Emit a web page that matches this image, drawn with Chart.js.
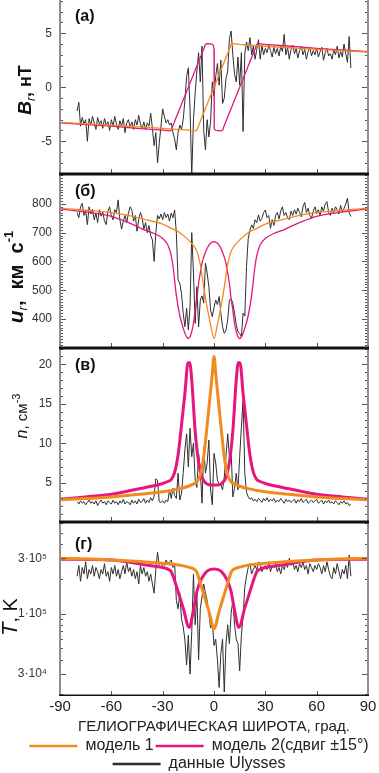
<!DOCTYPE html>
<html><head><meta charset="utf-8">
<script src="https://cdn.jsdelivr.net/npm/chart.js@4.4.1/dist/chart.umd.min.js"></script>
<style>
html,body{margin:0;padding:0;background:#fff;overflow:hidden}
#wrap{position:relative;width:379px;height:773px;overflow:hidden;background:#fff}
canvas{position:absolute;left:0}
</style></head><body>
<div id="wrap">
<canvas id="cA" width="379" height="174" style="top:0px"></canvas>
<canvas id="cB" width="379" height="174" style="top:174px"></canvas>
<canvas id="cC" width="379" height="174" style="top:348px"></canvas>
<canvas id="cD" width="379" height="260" style="top:522px"></canvas>
</div>
<script>
// ---------- DATA ----------
const xTickValues = [-90, -60, -30, 0, 30, 60, 90];

const latObs = [
-80,-79,-78,-77,-76,-75,-74,-73,-72,-71,
-70,-69,-68,-67,-66,-65,-64,-63,-62,-61,
-60,-59,-58,-57,-56,-55,-54,-53,-52,-51,
-50,-49,-48,-47,-46,-45,-44,-43,-42,-41,
-40,-39,-38,-37,-36,-35,-34,-33,-32,-31,
-30,-29,-28,-27,-26,-25,-24,-23,-22,-21,
-20,-19,-18,-17,-16,-15,-14,-13,-12,-11,
-10,-9,-8,-7,-6,-5,-4,-3,-2,-1,
0,1,2,3,4,5,6,7,8,9,
10,11,12,13,14,15,16,17,18,19,
20,21,22,23,24,25,26,27,28,29,
30,31,32,33,34,35,36,37,38,39,
40,41,42,43,44,45,46,47,48,49,
50,51,52,53,54,55,56,57,58,59,
60,61,62,63,64,65,66,67,68,69,
70,71,72,73,74,75,76,77,78,79,
80];

// (а) Br, нТ — Ulysses
const brObs = [
-2.2,-1.4,-3.6,-2.8,-3.4,-3.0,-5.0,-2.9,-3.5,-2.7,
-3.3,-3.9,-2.8,-3.4,-3.1,-3.8,-2.9,-3.5,-3.2,-4.0,
-3.0,-3.6,-2.7,-3.4,-3.9,-3.1,-3.6,-2.9,-4.2,-3.3,
-3.0,-3.7,-3.2,-3.9,-3.0,-3.5,-2.6,-3.4,-3.8,-3.2,
-3.9,-3.3,-3.6,-2.4,-3.8,-5.4,-4.2,-7.0,-5.2,-3.6,
-2.0,-2.7,-3.3,-3.0,-3.5,-3.3,-4.2,-4.8,-5.8,-4.2,
-3.5,-3.9,-3.0,-1.2,1.0,1.8,-2.0,-8.2,-3.0,-0.5,
1.5,3.2,0.5,3.8,-4.0,-5.8,-3.0,-4.6,-3.2,0.5,
-0.8,1.0,2.2,0.2,2.5,-1.5,-1.0,0.8,1.5,4.5,
5.2,3.0,1.2,0.5,2.8,0.2,3.2,-4.1,3.1,4.2,
3.4,4.6,3.0,3.8,2.6,3.5,4.4,2.6,3.9,3.0,
3.6,3.2,3.9,3.4,2.8,3.7,3.1,3.6,2.9,3.8,
3.3,4.9,3.0,3.7,2.6,3.5,3.9,3.1,3.6,2.7,
3.4,3.8,3.0,3.5,2.6,3.3,3.7,2.9,3.4,3.0,
3.6,2.8,3.3,3.7,2.5,3.2,3.6,2.9,3.1,2.6,
3.5,3.0,3.8,2.7,3.3,2.8,4.0,3.1,2.3,4.7,
1.8];
const brM1Lat = [-90,-60,-30,-15,-11,-10,-9,0,9,10,11,15,30,60,90];
const brM1    = [-3.25,-3.5,-3.8,-3.97,-4.04,-3.98,-3.55,0,3.55,3.98,4.04,3.97,3.8,3.5,3.25];
const brM2Lat = [-90,-60,-45,-30,-26,-25,-24,-15,-6,-5,-4,-1,-0.3,0,0,0.3,1,4,5,6,15,24,25,26,30,45,60,90];
const brM2    = [-3.3,-3.6,-3.8,-3.97,-4.04,-3.98,-3.55,0,3.55,3.98,4.04,3.99,3.85,3.5,-3.5,-3.85,-3.99,-4.04,-3.98,-3.55,0,3.55,3.98,4.04,3.97,3.8,3.6,3.3];

// (б) ur, км/с
const urObs = [
770,752,790,802,760,775,728,790,765,782,
745,768,735,780,757,772,740,728,775,790,
758,745,780,770,814,745,712,740,760,735,
768,790,778,740,760,705,745,770,752,712,
735,700,725,690,675,600,700,760,748,765,
745,770,752,765,740,768,752,779,698,536,
524,489,420,373,437,362,443,700,560,385,
512,373,466,480,455,594,560,512,431,408,
440,466,450,478,420,373,350,360,396,466,
470,455,420,380,355,350,338,420,410,582,
680,709,727,715,745,735,762,740,750,770,
779,752,760,715,745,725,760,770,748,775,
790,760,770,752,745,775,760,780,765,785,
770,755,790,805,770,785,760,750,775,790,
765,780,760,790,775,800,808,770,760,785,
770,790,780,765,795,770,785,800,820,770,
756];
const urM1Lat = [-90,-75,-60,-50,-40,-30,-25,-20,-15,-12,-10,-8,-6,-4,-2,0,2,4,6,8,10,12,15,20,25,30,40,50,60,75,90];
const urM1    = [785,778,770,760,745,730,715,700,675,655,635,590,510,440,380,332,380,440,510,590,635,655,675,700,715,730,745,760,770,778,785];
const urM2Lat = [-90,-75,-60,-50,-45,-40,-35,-30,-27,-25,-24,-22,-20,-18,-17,-16,-15,-14,-13,-12,-11,-10,-9,-8,-7,-6,-4,-2,0,
                 2,4,6,7,8,9,10,11,12,13,14,15,16,17,18,20,22,24,25,27,30,35,40,45,50,60,75,90];
const urM2    = [783,772,757,735,722,708,697,680,658,620,585,482,412,368,350,338,332,338,356,385,431,470,524,560,594,615,646,663,669,
                 663,646,615,594,560,524,470,431,385,356,338,332,338,350,368,412,482,585,620,658,680,697,708,722,735,757,772,783];

// (в) n, см^-3
const nObs = [
2.6,2.3,2.7,2.4,2.6,2.2,2.5,2.8,2.4,2.6,
2.3,2.7,2.1,2.5,2.8,2.4,2.6,2.2,2.7,2.5,
2.3,2.8,2.4,2.6,2.2,2.7,2.4,2.9,2.3,2.6,
2.5,2.2,2.8,2.4,2.7,2.3,2.9,2.5,2.6,3.0,
2.4,2.8,2.5,3.1,2.7,3.3,5.5,5.3,2.6,2.5,
2.7,2.4,2.8,2.6,4.1,3.0,4.3,3.4,3.0,6.2,
2.8,3.6,6.2,9.2,11.2,7.0,11.9,8.3,10.0,5.3,
4.4,8.7,6.6,2.4,9.5,6.2,7.5,10.4,4.1,2.2,
8.7,7.5,5.3,4.9,4.7,4.1,5.7,8.3,11.2,8.3,
9.2,3.2,4.3,6.2,4.1,8.3,12.0,15.5,6.2,3.8,
3.2,2.9,3.1,2.7,2.9,2.6,3.0,2.8,2.5,3.0,
2.7,3.1,2.6,2.9,2.7,3.0,2.5,2.8,2.6,3.0,
2.7,2.4,2.9,2.6,2.8,2.5,2.7,2.9,2.4,2.8,
2.6,3.0,2.5,2.7,2.9,2.4,2.6,2.8,2.5,2.7,
2.9,2.4,2.6,2.8,2.3,2.7,2.5,2.8,2.4,2.6,
2.3,2.7,2.5,2.2,2.6,2.4,2.7,2.3,2.5,2.1,
2.3];
const nM1Lat = [-90,-75,-60,-45,-30,-20,-15,-12,-10,-8,-6,-4,-2,-1,0,1,2,4,6,8,10,12,15,20,30,45,60,75,90];
const nM1    = [2.85,3.0,3.2,3.5,3.85,4.25,4.55,4.85,5.1,6.0,8.3,12.3,16.6,18.8,21.0,18.8,16.6,12.3,8.3,6.0,5.1,4.85,4.55,4.25,3.85,3.5,3.2,3.0,2.85];
const nM2Lat = [-90,-75,-60,-48,-40,-30,-27,-25,-23,-21,-19,-17,-15.2,-14.2,-13,-11,-9,-7,-5,-3,0,3,5,7,9,11,13,14.2,15.2,17,19,21,23,25,27,30,40,48,60,75,90];
const nM2    = [2.9,3.2,3.55,4.05,4.4,4.9,5.15,5.4,6.3,8.5,12.3,16.3,20.2,20.2,18.0,11.5,7.6,5.7,5.0,4.75,4.7,4.75,5.0,5.7,7.6,11.5,18.0,20.2,20.2,16.3,12.3,8.5,6.3,5.4,5.15,4.9,4.4,4.05,3.55,3.2,2.9];

// (г) T, K
const tObs = [
2.1e5,2.6e5,1.9e5,2.5e5,2.2e5,2.8e5,2.0e5,2.4e5,2.2e5,2.6e5,
2.1e5,2.5e5,2.3e5,2.0e5,2.4e5,2.2e5,2.7e5,2.1e5,2.3e5,1.9e5,
2.5e5,2.2e5,2.6e5,2.1e5,2.4e5,2.0e5,2.3e5,2.6e5,2.2e5,2.8e5,
2.3e5,2.5e5,2.1e5,2.4e5,2.0e5,2.3e5,1.8e5,2.6e5,2.2e5,2.5e5,
2.1e5,2.3e5,1.9e5,2.2e5,1.8e5,1.5e5,2.4e5,3.4e5,2.6e5,2.5e5,
2.7e5,2.6e5,2.9e5,2.7e5,2.8e5,2.9e5,2.5e5,2.7e5,1.3e5,1.1e5,
1.5e5,9.0e4,7.7e4,5.9e4,3.6e4,6.5e4,3.0e4,7.0e4,2.2e5,8.0e4,
1.5e5,4.0e4,1.1e5,1.4e5,1.8e5,1.5e5,1.3e5,1.0e5,7.5e4,8.5e4,
5.3e4,6.0e4,4.0e4,2.3e4,4.5e4,6.0e4,2.1e4,5.5e4,8.0e4,5.5e4,
1.0e5,1.3e5,8.0e4,6.0e4,5.5e4,3.2e4,6.5e4,9.5e4,1.7e5,2.1e5,
2.5e5,2.7e5,2.2e5,2.4e5,2.6e5,2.4e5,2.8e5,2.7e5,2.3e5,2.5e5,
2.6e5,2.4e5,2.8e5,2.3e5,2.6e5,2.5e5,2.7e5,2.3e5,2.5e5,2.2e5,
2.6e5,2.4e5,2.7e5,2.5e5,3.0e5,2.6e5,2.9e5,2.4e5,2.6e5,2.3e5,
2.7e5,2.5e5,2.8e5,2.4e5,2.6e5,2.2e5,2.7e5,2.5e5,2.3e5,2.6e5,
2.4e5,2.7e5,2.5e5,2.2e5,2.6e5,2.3e5,2.8e5,2.4e5,2.1e5,2.0e5,
2.5e5,2.2e5,2.7e5,2.3e5,2.0e5,2.4e5,2.2e5,2.6e5,2.0e5,3.2e5,
2.1e5];
const tM1Lat = [-90,-60,-30,-20,-15,-11,-10,-9,-6,-3,0,3,6,9,10,11,15,20,30,60,90];
const tM1    = [3.0e5,2.9e5,2.72e5,2.62e5,2.52e5,2.38e5,2.28e5,2.05e5,1.47e5,1.05e5,7.4e4,1.05e5,1.47e5,2.05e5,2.28e5,2.38e5,2.52e5,2.62e5,2.72e5,2.9e5,3.0e5];
const tM2Lat = [-90,-60,-40,-30,-26,-25,-24,-21,-18,-14.5,-12,-10,-8,-6,-4,-2,0,2,4,6,8,10,12,14.5,18,21,24,25,26,30,40,60,90];
const tM2    = [2.95e5,2.9e5,2.63e5,2.5e5,2.38e5,2.3e5,2.12e5,1.55e5,1.12e5,7.6e4,1.07e5,1.55e5,1.9e5,2.15e5,2.33e5,2.41e5,2.43e5,2.41e5,2.33e5,2.15e5,1.9e5,1.55e5,1.07e5,7.6e4,1.12e5,1.55e5,2.12e5,2.3e5,2.38e5,2.5e5,2.63e5,2.9e5,2.95e5];

// tick label sets
const brTicks = [-5, 0, 5];
const urTicks = [400, 500, 600, 700, 800];
const nTicks  = [5, 10, 15, 20];
const tTicks  = [3e4, 1e5, 3e5];
const tTickLabels = ['3·10⁴', '1·10⁵', '3·10⁵'];
const legendLabels = ['модель 1', 'модель 2(сдвиг ±15°)', 'данные Ulysses'];
const xTitle = 'ГЕЛИОГРАФИЧЕСКАЯ ШИРОТА, град.';

// ---------- STYLE ----------
const FONT = '"Liberation Sans", Arial, sans-serif';
const ORANGE = '#f18a1f', PINK = '#e6157f', DARK = '#2e2e2e';
Chart.defaults.font.family = FONT;
Chart.defaults.color = '#222';

function pts(xs, ys) { return xs.map((x, i) => ({ x: x, y: ys[i] })); }
function range(a, b, s) { const r = []; for (let v = a; v <= b + 1e-9; v += s) r.push(+v.toFixed(6)); return r; }

function framePlugin(cfg) {
  return { id: 'frame', afterDatasetsDraw(chart) {
    const ctx = chart.ctx, a = chart.chartArea, ys = chart.scales.y, xs = chart.scales.x;
    const hl = (x1, y1, x2, y2) => { ctx.beginPath(); ctx.moveTo(x1, y1); ctx.lineTo(x2, y2); ctx.stroke(); };
    ctx.save();
    ctx.lineWidth = 1; ctx.strokeStyle = '#555';
    cfg.minor.forEach(v => { if (cfg.major.includes(v)) return; const p = Math.round(ys.getPixelForValue(v)) + 0.5; if (p < a.top || p > a.bottom) return; hl(a.left, p, a.left + 3, p); hl(a.right - 3, p, a.right, p); });
    cfg.major.forEach(v => { const p = Math.round(ys.getPixelForValue(v)) + 0.5; hl(a.left, p, a.left + 6, p); hl(a.right - 6, p, a.right, p); });
    xTickValues.forEach(v => { const p = Math.round(xs.getPixelForValue(v)) + 0.5; hl(p, a.bottom - 5, p, a.bottom); });
    ctx.strokeStyle = '#8e8e8e'; ctx.lineWidth = 2;
    hl(a.left, a.top, a.left, a.bottom); hl(a.right, a.top, a.right, a.bottom);
    ctx.strokeStyle = '#111'; ctx.lineWidth = 1.4;
    if (cfg.top) hl(a.left - 1, a.top + 0.7, a.right + 1, a.top + 0.7);
    hl(a.left - 1, a.bottom - 0.7, a.right + 1, a.bottom - 0.7);
    ctx.restore();
  }};
}
function decoPlugin(cfg) {
  return { id: 'deco',
    afterLayout(chart) {
      if (cfg.legendShift && chart.legend) { chart.legend.left += cfg.legendShift; chart.legend.right += cfg.legendShift; }
    },
    afterDraw(chart) {
    const ctx = chart.ctx, a = chart.chartArea;
    ctx.save();
    ctx.fillStyle = '#111'; ctx.textBaseline = 'middle'; ctx.textAlign = 'left';
    ctx.font = 'bold 16px ' + FONT;
    ctx.fillText(cfg.letter, a.left + 15, a.top + cfg.letterY);
    ctx.translate(cfg.tx, cfg.ty); ctx.rotate(-Math.PI / 2);
    let total = 0;
    cfg.title.forEach(s => { ctx.font = s.f + ' ' + FONT; s.w = ctx.measureText(s.t).width; total += s.w; });
    let x = -total / 2;
    cfg.title.forEach(s => { ctx.font = s.f + ' ' + FONT; ctx.fillText(s.t, x, s.dy || 0); x += s.w; });
    ctx.restore();
  }};
}

function makeChart(id, p) {
  const last = !!p.last;
  const scales = {
    x: last ? {
      type: 'linear', min: -90, max: 90, position: 'bottom',
      afterBuildTicks(s) { s.ticks = xTickValues.map(v => ({ value: v })); },
      afterFit(s) { s.height = 40; s.paddingLeft = 0; s.paddingRight = 0; },
      grid: { display: false, drawTicks: false }, border: { display: false },
      ticks: { padding: 2, color: '#222', font: { size: 15 }, maxRotation: 0, autoSkip: false },
      title: { display: true, text: xTitle, color: '#222', font: { size: 15 }, padding: { top: 0, bottom: 0 } }
    } : { type: 'linear', min: -90, max: 90, display: false },
    y: {
      type: p.yType || 'linear', min: p.min, max: p.max, position: 'left',
      afterBuildTicks(s) { s.ticks = p.major.map(v => ({ value: v })); },
      afterFit(s) { s.width = 60; s.paddingTop = 0; s.paddingBottom = 0; },
      grid: { display: false, drawTicks: false }, border: { display: false },
      ticks: { padding: p.tickPad, color: '#333', font: { size: 12 }, callback: p.fmt || (v => String(v)) }
    }
  };
  const mode = p.mono ? 'monotone' : 'default';
  return new Chart(document.getElementById(id), {
    type: 'line',
    data: { datasets: [
      { label: legendLabels[0], data: pts(p.m1x, p.m1), borderColor: ORANGE, backgroundColor: ORANGE, borderWidth: p.mw, order: 1, pointStyle: 'line', cubicInterpolationMode: mode },
      { label: legendLabels[1], data: pts(p.m2x, p.m2), borderColor: PINK, backgroundColor: PINK, borderWidth: p.mw, order: 2, pointStyle: 'line', cubicInterpolationMode: mode },
      { label: legendLabels[2], data: pts(latObs, p.obs), borderColor: DARK, backgroundColor: DARK, borderWidth: 1, order: 3, pointStyle: 'line' }
    ]},
    options: {
      responsive: false, animation: false, events: [],
      layout: { padding: { left: 0, right: 11, top: 0, bottom: 0 } },
      elements: { point: { radius: 0, hoverRadius: 0 }, line: { tension: 0, borderJoinStyle: 'round' } },
      plugins: {
        tooltip: { enabled: false },
        legend: last ? {
          display: true, position: 'bottom', align: 'center',
          labels: { usePointStyle: true, pointStyleWidth: 48, padding: 2, color: '#222', font: { size: 16 },
            generateLabels(chart) {
              const items = Chart.defaults.plugins.legend.labels.generateLabels(chart);
              items.forEach(it => { it.lineWidth = 2.5; it.pointStyle = 'line'; it.fillStyle = it.strokeStyle; });
              return items;
            } }
        } : { display: false }
      },
      scales: scales
    },
    plugins: [framePlugin({ major: p.major, minor: p.minor, top: p.top }), decoPlugin(p.deco)]
  });
}

makeChart('cA', {
  min: -8.03, max: 8.08, major: brTicks, minor: range(-8, 8, 1), top: false,
  tickPad: 8, m1x: brM1Lat, m1: brM1, m2x: brM2Lat, m2: brM2, obs: brObs, mw: 1.3,
  deco: { letter: '(а)', letterY: 17, tx: 26, ty: 90, title: [
    { t: 'B', f: 'italic bold 19px' }, { t: 'r', f: 'italic 12px', dy: 6 }, { t: ', нТ', f: 'bold 18px' } ] }
});
makeChart('cB', {
  min: 299, max: 904, major: urTicks, minor: range(300, 900, 10), top: true,
  tickPad: 8, m1x: urM1Lat, m1: urM1, m2x: urM2Lat, m2: urM2, obs: urObs, mw: 1.3, mono: true,
  deco: { letter: '(б)', letterY: 18, tx: 17, ty: 103, title: [
    { t: 'u', f: 'italic bold 21px' }, { t: 'r', f: 'italic 13px', dy: 6 }, { t: ',  км  с', f: 'bold 20px' }, { t: '-1', f: 'bold 13px', dy: -8 } ] }
});
makeChart('cC', {
  min: 0.02, max: 22.07, major: nTicks, minor: range(1, 22, 1), top: true,
  tickPad: 8, m1x: nM1Lat, m1: nM1, m2x: nM2Lat, m2: nM2, obs: nObs, mw: 3, mono: true,
  deco: { letter: '(в)', letterY: 18, tx: 23, ty: 68, title: [
    { t: 'n', f: 'italic 16px' }, { t: ', см', f: '15px' }, { t: '-3', f: '11px', dy: -6 } ] }
});
makeChart('cD', {
  last: true, yType: 'logarithmic', min: 1.94e4, max: 6.18e5, major: tTicks,
  minor: [2e4, 4e4, 5e4, 6e4, 7e4, 8e4, 9e4, 2e5, 4e5, 5e5, 6e5], top: true,
  fmt: (v) => { const i = tTicks.indexOf(v); return i >= 0 ? tTickLabels[i] : ''; },
  tickPad: 13, m1x: tM1Lat, m1: tM1, m2x: tM2Lat, m2: tM2, obs: tObs, mw: 3, mono: true,
  deco: { letter: '(г)', letterY: 23, tx: 11, ty: 95, legendShift: 15, title: [
    { t: 'T', f: 'italic 22px' }, { t: ', K', f: '20px' } ] }
});
</script>
</body></html>
